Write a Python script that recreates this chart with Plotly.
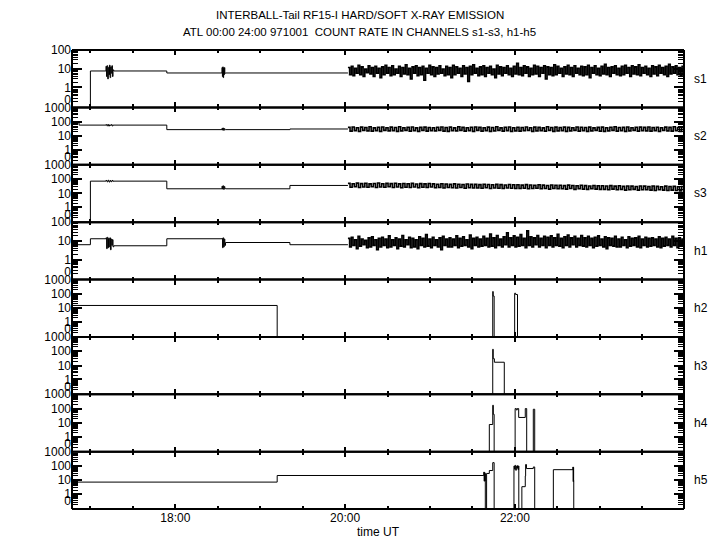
import plotly.graph_objects as go
from plotly.subplots import make_subplots
import pandas as pd
import math

DAY = "1997-10-01 "
X_START = "1997-10-01 16:47"
X_END = "1997-10-01 23:59:30"

channels = ["s1", "s2", "s3", "h1", "h2", "h3", "h4", "h5"]
axis_top = {"s1": 100, "s2": 1000, "s3": 1000, "h1": 100,
            "h2": 1000, "h3": 1000, "h4": 1000, "h5": 1000}

# x ticks: every half hour, labelled every two hours
x_ticks = ["17:00", "17:30", "18:00", "18:30", "19:00", "19:30", "20:00",
           "20:30", "21:00", "21:30", "22:00", "22:30", "23:00", "23:30"]
x_labels = ["", "", "18:00", "", "", "", "20:00", "", "", "", "22:00", "", "", ""]
x_long = ["18:00", "20:00", "22:00"]

# ---- step (piecewise constant) data: times and values ----
s1_t = ["16:47", "17:00", "17:16:30", "17:54", "18:35:30"]
s1_v = [0, 7.9, 7.9, 6.2, 6.2]
s2_t = ["16:47", "16:52", "17:16:30", "17:54", "18:35:30", "19:21"]
s2_v = [84, 58, 58, 28, 28, 31]
s3_t = ["16:47", "17:00", "17:16:30", "17:54", "18:35:30", "19:21"]
s3_v = [0, 72, 72, 21, 21, 36]
h1_t = ["16:47", "17:00", "17:16:30", "17:54", "18:35:30", "19:21"]
h1_v = [6.5, 13.4, 5.7, 13.4, 8.5, 6.5]
h2_t = ["16:47", "19:12", "21:44:20", "21:44:40", "21:45:20", "21:59:50",
        "22:00:30", "22:01:50", "23:59:59"]
h2_v = [15.4, 0, 145, 70, 0, 110, 90, 0, 0]
h3_t = ["16:47", "21:44:20", "21:44:40", "21:45:30", "21:52:30", "23:59:59"]
h3_v = [0, 137, 30, 17, 0, 0]
h4_t = ["16:47", "21:41:55", "21:44:20", "21:44:45", "21:45:20", "22:00:10",
        "22:01:00", "22:01:40", "22:02:40", "22:07:20", "22:08:20",
        "22:13:00", "22:14:00", "23:59:59"]
h4_v = [0, 7.7, 171, 40, 0, 100, 80, 100, 24, 100, 0, 90, 0, 0]
h5_t = ["16:47", "19:12", "21:39:05", "21:40:00", "21:41:55", "21:44:20",
        "21:45:20", "22:02:45", "22:04:55", "22:07:20", "22:07:35",
        "22:08:10", "22:13:00", "22:14:00", "22:27:10", "22:41:35", "23:59:59"]
h5_v = [7.4, 21.6, 0, 30, 48, 171, 0, 0, 3.5, 20, 126, 66, 85, 0, 55, 0, 0]

# ---- short bursts ----
s1_b1 = [14, 4, 15, 3, 12, 5, 16, 3.5, 13, 6, 15, 4, 9]
s1_b2 = [12, 4, 13, 3.5, 11, 5, 12, 6]
s2_b1 = [62, 52, 64, 50, 60, 55, 63, 51, 58]
s2_b2 = [35, 26, 36, 25, 33, 28]
s3_b1 = [80, 65, 82, 63, 78, 66, 80, 70]
s3_b2 = [32, 20, 34, 19, 30, 22]
h1_b1 = [15, 4, 16, 4.5, 14, 5, 15, 3.5, 13, 6, 12, 5]
h1_b2 = [14, 4.5, 15, 5, 13, 6]
h5_b1 = [37, 8.6, 36, 9, 30]
h5_b2 = [100, 60, 110, 50, 95, 70, 105, 55, 100]
h5_b3 = [85, 8, 80, 10]

# ---- noisy count-rate records 20:02 - 24:00 ----
s1_noise = [
    12, 5, 14, 4.5, 11, 6, 16, 5, 13, 4, 10, 6.5, 15, 5.5, 12, 4, 14, 6, 11, 3.5,
    13, 5, 16, 6, 12, 4.5, 15, 5, 10, 6, 14, 4, 12, 5.5, 17, 5, 11, 3, 13, 6,
    15, 4.5, 12, 5, 14, 2.5, 11, 6, 16, 5, 13, 4, 12, 5.5, 15, 6, 10, 4.5, 14, 5,
    12, 3.5, 16, 5, 13, 6, 11, 4, 15, 5.5, 12, 2.2, 14, 5, 17, 6, 11, 4.5, 13, 5,
    15, 4, 12, 6, 14, 5, 10, 3.5, 16, 5.5, 13, 4.5, 12, 6, 15, 5, 11, 4, 14, 5.5,
    20, 5, 12, 4.5, 15, 6, 13, 4, 11, 5, 16, 5.5, 14, 4, 12, 6, 15, 3, 13, 5,
    12, 4.5, 17, 5, 14, 6, 11, 4, 13, 5.5, 16, 5, 12, 4, 15, 6, 11, 5, 14, 4.5,
    13, 5, 16, 3.5, 12, 6, 15, 5, 11, 4.5, 14, 5.5, 18, 5, 12, 4, 13, 6, 15, 5,
    11, 4.5, 14, 5, 16, 6, 12, 4, 15, 5.5, 13, 5, 17, 4.5, 12, 6, 14, 5, 11, 4,
    15, 5.5, 13, 4.5, 16, 6, 12, 5, 14, 4, 18, 5.5, 13, 6, 15, 5, 12, 4.5, 14, 6,
]
s2_noise = [
    40, 22, 43, 24, 38, 21, 42, 25, 39, 23, 44, 22, 37, 24, 41, 21, 43, 25, 38, 23,
    42, 24, 39, 21, 44, 23, 38, 25, 41, 22, 43, 24, 37, 21, 40, 25, 42, 22, 39, 24,
    38, 23, 41, 25, 43, 22, 39, 21, 42, 24, 37, 23, 44, 25, 40, 22, 38, 24, 41, 21,
    43, 25, 40, 22, 38, 24, 42, 21, 39, 23, 44, 25, 37, 22, 41, 24, 43, 21, 38, 23,
    41, 22, 39, 24, 43, 25, 38, 21, 42, 23, 40, 24, 37, 22, 44, 25, 39, 21, 42, 23,
    39, 24, 42, 21, 40, 23, 38, 25, 43, 22, 41, 24, 39, 21, 42, 23, 37, 25, 40, 22,
    42, 21, 38, 23, 41, 25, 44, 22, 39, 24, 40, 21, 43, 23, 38, 25, 41, 22, 42, 24,
    40, 23, 43, 22, 39, 24, 41, 21, 38, 25, 42, 23, 40, 22, 44, 24, 39, 21, 41, 23,
]
s3_noise = [
    50, 27, 47, 29, 52, 26, 48, 28, 51, 27, 46, 29, 49, 26, 53, 28, 47, 27, 50, 29,
    48, 26, 51, 28, 46, 25, 49, 27, 47, 26, 50, 28, 45, 25, 48, 27, 46, 26, 49, 28,
    46, 25, 44, 26, 47, 24, 45, 26, 43, 25, 46, 24, 44, 26, 42, 23, 45, 25, 43, 24,
    43, 24, 41, 23, 44, 25, 42, 22, 40, 24, 43, 23, 41, 22, 39, 24, 42, 23, 40, 22,
    40, 22, 38, 23, 41, 21, 39, 22, 37, 23, 40, 21, 38, 22, 36, 20, 39, 22, 37, 21,
    37, 21, 35, 20, 38, 22, 36, 19, 34, 21, 37, 20, 35, 19, 33, 21, 36, 20, 34, 19,
    34, 19, 33, 18, 35, 20, 32, 18, 34, 19, 31, 17, 33, 18, 32, 19, 30, 17, 33, 18,
    32, 18, 30, 17, 33, 16, 31, 18, 29, 17, 32, 16, 30, 17, 31, 16, 29, 15, 30, 17,
]
h1_noise = [
    14, 5, 16, 6, 12, 4, 18, 5.5, 13, 6.5, 11, 4.5, 15, 5, 17, 6, 12, 3.5, 14, 5,
    16, 6, 13, 4.5, 19, 5, 12, 6, 15, 4, 13, 5.5, 20, 5, 12, 6.5, 16, 4.5, 14, 5,
    12, 4, 17, 6, 14, 5, 22, 5.5, 13, 4.5, 16, 6, 12, 5, 15, 3.5, 18, 6, 13, 5,
    15, 5, 13, 6, 19, 4.5, 14, 5.5, 17, 6, 12, 5, 21, 4, 14, 6, 16, 5, 13, 5.5,
    18, 6, 14, 5, 24, 5.5, 15, 4.5, 20, 6, 13, 5, 17, 6.5, 28, 5, 15, 6, 19, 5,
    16, 5.5, 22, 6, 14, 4.5, 35, 6, 17, 5, 15, 6.5, 20, 5, 14, 6, 18, 4.5, 16, 6,
    19, 5, 15, 6, 23, 5.5, 14, 4.5, 17, 6, 21, 5, 15, 6.5, 18, 5, 14, 6, 20, 5.5,
    15, 5, 18, 6, 14, 4.5, 16, 5.5, 19, 6, 13, 5, 17, 4, 15, 6, 14, 5.5, 18, 5,
    13, 5, 16, 6, 12, 4.5, 17, 5.5, 14, 6, 15, 5, 18, 4.5, 13, 6, 16, 5, 14, 5.5,
    15, 6, 13, 5, 17, 4.5, 14, 5.5, 16, 6, 13, 5, 18, 6, 14, 4.5, 15, 5.5, 13, 6,
]

NOISE = ("20:02", "23:59:20")
B1 = ("17:11", "17:16")
B2 = ("18:33", "18:35")

records = {
    "s1": (s1_t, s1_v, [(B1, s1_b1), (B2, s1_b2)], s1_noise),
    "s2": (s2_t, s2_v, [(B1, s2_b1), (B2, s2_b2)], s2_noise),
    "s3": (s3_t, s3_v, [(B1, s3_b1), (B2, s3_b2)], s3_noise),
    "h1": (h1_t, h1_v, [(B1, h1_b1), (B2, h1_b2)], h1_noise),
    "h2": (h2_t, h2_v, [], None),
    "h3": (h3_t, h3_v, [], None),
    "h4": (h4_t, h4_v, [], None),
    "h5": (h5_t, h5_v, [(("21:38:00", "21:39:00"), h5_b1),
                        (("21:59:20", "22:02:40"), h5_b2),
                        (("22:41:00", "22:41:30"), h5_b3)], None),
}

# The instrument scale is logarithmic in (rate + 0.1), so that a zero
# count rate sits at the bottom of each panel and is labelled "0".
OFFSET = 0.1


def scale(v):
    return math.log10(v + OFFSET)


def build(steps_t, steps_v, segments):
    pts = [(pd.Timestamp(DAY + t), v) for t, v in zip(steps_t, steps_v)]
    for (a, b), vals in segments:
        grid = pd.date_range(DAY + a, DAY + b, periods=len(vals))
        pts += list(zip(grid, vals))
    pts.sort(key=lambda p: p[0])
    return [p[0] for p in pts], [scale(p[1]) for p in pts]


FONT = "Liberation Sans, Arial, sans-serif"
fig = make_subplots(rows=8, cols=1, shared_xaxes=True, vertical_spacing=0)
frame = [dict(type="line", xref="paper", yref="paper", x0=0, x1=0, y0=0, y1=1,
              layer="above", line=dict(color="black", width=2)),
         dict(type="line", xref="paper", yref="paper", x0=1, x1=1, y0=0, y1=1,
              layer="above", line=dict(color="black", width=2))]

for i, ch in enumerate(channels, start=1):
    st, sv, segs, noise = records[ch]
    if noise is not None:
        st_full, sv_full = st + [NOISE[0]], sv + [sv[-1]]
    else:
        st_full, sv_full = st, sv
    x, y = build(st_full, sv_full, segs)
    fig.add_trace(go.Scatter(x=x, y=y, mode="lines", line_shape="hv",
                             line=dict(color="black", width=1),
                             showlegend=False, hoverinfo="skip"),
                  row=i, col=1)
    if noise is not None:
        nx = pd.date_range(DAY + NOISE[0], DAY + NOISE[1], periods=len(noise))
        fig.add_trace(go.Scatter(x=nx, y=[scale(v) for v in noise],
                                 mode="lines", line_shape="hv",
                                 line=dict(color="black", width=1.6),
                                 showlegend=False, hoverinfo="skip"),
                      row=i, col=1)
    top = axis_top[ch]
    decades = [0, 1, 10, 100, 1000][: 5 if top == 1000 else 4]
    tickvals, ticktext = [], []
    for d in decades:
        tickvals.append(scale(d))
        ticktext.append("0<br>&nbsp;" if d == 0 else str(d))
    for base in [0.1, 1, 10, 100]:
        if base * 10 <= top:
            for k in range(2, 10):
                tickvals.append(scale(base * k if base >= 1 else base * k - OFFSET))
                ticktext.append("")
    fig.update_yaxes(
        type="linear", range=[scale(0), scale(top)],
        tickmode="array", tickvals=tickvals, ticktext=ticktext,
        ticks="inside", ticklen=6, tickwidth=1, tickcolor="black",
        showline=False, mirror="ticks",
        showgrid=False, zeroline=False,
        tickfont=dict(family=FONT, size=12, color="black"),
        minor=dict(tickmode="array", tickvals=[scale(d) for d in decades[1:]],
                   ticks="inside", ticklen=10, tickwidth=1.5,
                   tickcolor="black", showgrid=False),
        row=i, col=1)
    fig.update_xaxes(
        type="date", range=[X_START, X_END],
        tickmode="array", tickvals=[DAY + t for t in x_ticks],
        ticktext=x_labels, ticks="inside", ticklen=3, tickwidth=1.5,
        tickcolor="black", showline=False, mirror="ticks",
        showgrid=False, zeroline=False,
        tickfont=dict(family=FONT, size=12, color="black"),
        minor=dict(tickmode="array", tickvals=[DAY + t for t in x_long],
                   ticks="inside", ticklen=5, tickwidth=1.5,
                   tickcolor="black", showgrid=False),
        row=i, col=1)
    sfx = "" if i == 1 else str(i)
    dom = fig.layout["yaxis" + sfx].domain
    for edge in dom:
        frame.append(dict(type="line", xref="paper", yref="paper",
                          x0=0, x1=1, y0=edge, y1=edge, layer="above",
                          line=dict(color="black", width=2)))
    fig.add_annotation(text=ch, xref="paper", yref="paper",
                       x=1.013, y=(dom[0] + dom[1]) / 2, xanchor="left",
                       yanchor="middle", showarrow=False,
                       font=dict(family=FONT, size=12, color="black"))

fig.update_xaxes(title=dict(text="time UT", standoff=2,
                            font=dict(family=FONT, size=12, color="black")),
                 row=8, col=1)

fig.add_annotation(text="INTERBALL-Tail RF15-I HARD/SOFT X-RAY EMISSION",
                   xref="paper", yref="paper", x=0.4705, y=1.076,
                   xanchor="center", yanchor="middle", showarrow=False,
                   font=dict(family=FONT, size=11.5, color="black"))
fig.add_annotation(text="ATL 00:00 24:00 971001&nbsp;&nbsp;COUNT RATE IN CHANNELS s1-s3, h1-h5",
                   xref="paper", yref="paper", x=0.4705, y=1.039,
                   xanchor="center", yanchor="middle", showarrow=False,
                   font=dict(family=FONT, size=11.5, color="black"))

# the page body adds an 8 px margin, so the figure is 8 px smaller
fig.update_layout(width=712, height=542, plot_bgcolor="white",
                  paper_bgcolor="white", shapes=frame,
                  margin=dict(l=64, r=36, t=42, b=41))
fig.write_html("out.html")
